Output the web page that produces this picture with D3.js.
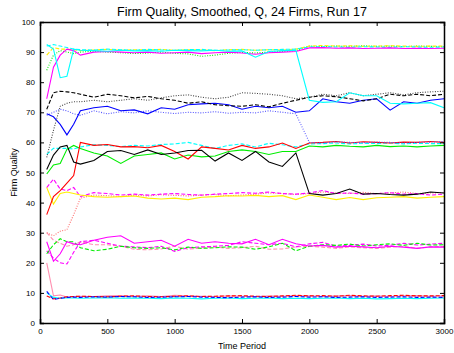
<!DOCTYPE html>
<html><head><meta charset="utf-8">
<script src="https://cdn.jsdelivr.net/npm/d3@7"></script>
<style>body{margin:0;background:#fff;}svg{display:block;font-family:"Liberation Sans",Arial,sans-serif;}</style>
</head><body><svg id="c" width="454" height="353"></svg>
<script>
const times = [50,100,150,200,250,300,400,500,600,700,800,900,1000,1100,1200,1300,1400,1500,1600,1700,1800,1900,2000,2100,2200,2300,2400,2500,2600,2700,2800,2900,3000];
const xTicks = [0,500,1000,1500,2000,2500,3000];
const yTicks = [0,10,20,30,40,50,60,70,80,90,100];
const title = "Firm Quality, Smoothed, Q, 24 Firms, Run 17";
const xLabel = "Time Period";
const yLabel = "Firm Quality";

const magentaHi = [74.5,85,89,91,90.5,89,90,90.2,90,89.8,90,89.6,89.8,90,89.5,89.8,90,89.7,89.3,89.8,90,90.2,91.4,91.5,91.3,91.4,91.2,91.3,91.4,91.2,91.3,91.2,91.3];
const cyanHi = [92.5,91,81.5,82,91,90.6,90.5,90.3,90.6,90.4,90.5,90.3,90.6,90.5,90.4,90.6,90.3,90.4,88.3,90.2,90.5,90.6,74,73.3,73.5,76.5,75.5,75.5,73,72.8,73,73.2,71.5];
const yellowHi = [89,91.5,91,91,90.8,90.5,90.7,90.9,90.6,90.8,90.7,90.9,90.6,90.8,90.7,90.5,90.8,90.9,90.6,90.8,90.7,91,92,92.2,92,92.1,91.9,92,92.1,92,91.9,92,92];
const greenHi = [84,89,90.5,90,89.5,90,90.3,90,89.8,89.5,89.7,90,89.6,89.4,88.6,89,89.6,89.9,89.7,90,90.2,90.5,92,91.8,92,91.9,92.1,91.9,92,91.8,92,91.9,91.8];
const cyanHi2 = [92,92.5,92,91.5,91,90.8,90.7,91,90.8,90.6,90.9,90.7,90.6,90.8,90.9,90.6,90.7,90.8,90.6,90.8,90.9,91,91.7,91.8,91.7,91.6,91.8,91.7,91.6,91.8,91.7,91.6,91.7];
const blackDash = [71,76.5,77,76.8,76.5,76,75,76,75.5,74.8,75.3,74.5,74,73,73.5,72.5,72.2,72,72.5,71.8,73,74,75,75.5,75.2,74.5,73.8,74.5,76,75.5,76,75.5,76];
const blackDot = [55,64,72,73,73.5,73.5,74,73.5,74,74.5,74,74.8,75.5,75.8,75,74.5,75,76.5,76.3,76,75.5,74.5,75,76,75.5,76.5,75.5,76,76.5,75.8,76.5,76.8,77];
const blueSolid = [69.5,68.5,66,62.5,66,70.5,71.5,72,70.5,70.8,69.5,71.5,71,72.5,72.8,73,72.5,71,72,71.5,72,70,70.5,74.5,73.5,73,74,74.5,70.7,73.5,73,74,74.5];
const blueDot = [69,70,71,70.5,69.5,69,70.5,69.5,70.2,69.8,70.5,70,69.6,70,69.8,70.2,69.7,70,69.8,70.5,70,69.5,60,59.8,60.2,60,59.9,60.1,60,59.8,60,60.1,60.3];
const blackSolid = [51,55.8,58.5,59,53.5,52.8,54,57,57.3,56,57.5,56,56.5,57.3,57.4,53.8,56.5,54,57,53.5,52,56.5,43,42.5,43,44.5,42.8,43,42.7,42.5,42.8,43.5,43.2];
const redSolid = [36,42,44,46.5,49,60,59,59.3,58.5,58.6,58.2,59,57,54.5,58.5,58,57.5,59,58,58.5,59.8,58,59.8,60,60.3,59.8,60.2,60,59.8,60.1,60,60.3,60];
const greenSolid = [49.5,52.5,53,57.7,59,58,56.5,55.5,53,55.5,56,56.5,54.5,55.8,55.2,55.5,57,57.5,57,56,57,57,58.8,58.5,59,58.7,58.5,59,58.6,58.8,58.5,58.8,59];
const cyanDash = [56,58,58,58,57.8,58.5,59.2,59,58.6,59,58.8,59.3,59.5,60,59,58,59,59.5,58.5,59.7,59.2,58.5,59.5,59.6,59.8,59.5,59.7,59.6,59.8,59.5,59.7,59.6,59.6];
const yellowSolid = [45,39.5,43,43.5,43,42.5,42,41.8,42,42.2,41.5,41.2,41.5,41,41.8,42,42.3,42.2,42.4,42,42.3,41,42.5,41.8,41,41.7,41,41.6,41.8,42,41.5,41.8,42];
const magentaDashMid = [45,47.8,44.5,44,45,42,43.3,43,42.5,42.8,42.5,42.8,43,42.7,42.5,42.8,43,43.3,43.1,43.5,43,42.8,43.2,44,43,43.2,42.8,43,43.3,42.8,43,42.5,42.8];
const redDot = [30,29,30.5,31,36,41.5,42.5,42.3,42,42.5,42.2,42.6,42.4,42.2,42.5,42.7,42.3,42.5,42.8,43.2,43,42.7,43,43.5,43.2,43,43.4,43,43.2,43.5,43,43.2,43.3];
const magentaLow = [27,20.5,23,27,26.3,26,27.5,28.5,29,26.5,27,27.5,25.5,27.8,26.5,27,26.5,26.3,27.8,26,27.8,26.3,25.6,25.8,25.2,25.5,25.3,25,25.5,25.2,24.8,25.3,25.2];
const greenDash = [23,26,28,27,27,25,24,24.5,25.5,25,24.8,25,24.3,25.2,24.8,25,25.3,25.2,24.5,25.3,26.5,24,25.5,26,25.8,26.2,25.6,26,26.3,25.8,26.5,25.9,26];
const magentaDashLow = [24,21.5,20,19.6,23.5,27,27.5,26.5,25.5,25.3,25,25.5,23.8,25,25.3,25.5,25.8,27,26.5,26,26.5,25.3,26.3,26.8,25.5,25.8,26.2,25.6,25.8,26.5,25.9,26.2,26.5];
const pinkDash = [30,27.5,26.5,25.5,26,27,26,26,25.5,24.5,24.3,24.6,25.5,24.5,25,25.2,24.8,25,25.5,24.5,24.6,25.3,25.5,25.2,24.8,25.3,25,24.8,25.2,25.5,24.8,25.3,25.4];
const pinkSolid = [20,9,9.3,8.6,8.8,8.9,8.8,9,9.1,8.9,9,8.8,9.2,9,8.9,8.8,9,8.9,8.7,9,8.9,9.1,9,8.8,9,9.1,8.9,9,8.8,9,9.1,8.9,9];
const blueDash = [10.5,7.8,8.2,8.5,8.6,8.5,8.7,8.6,8.8,8.7,8.5,8.6,8.7,8.8,8.6,8.5,8.4,8.6,8.7,8.5,8.6,8.8,8.6,8.7,8.5,8.6,8.7,8.5,8.6,8.7,8.5,8.6,8.5];
const redDash = [9,8,8.3,8.7,8.8,8.9,8.8,8.7,8.9,9,8.8,8.7,8.9,9,8.8,8.9,9,9.1,8.9,8.8,9,9.2,9,9.1,8.9,9.2,9,8.9,9.1,9.2,9,9,9.1];
const cyanLow = [10,8.5,8.2,8.4,8.3,8.2,8.3,8.4,8.2,8.3,8.2,8.1,8.3,8.2,8,8.2,8.3,8.1,8.2,8.3,8.1,8.2,8.1,8.2,8.3,8.1,8.2,8,8.1,8.2,8.1,8.2,8.3];

const series = [
  {v: pinkDash, c:"#ff8fb0", d:"4,2"},
  {v: magentaDashLow, c:"#ff00ff", d:"4,2"},
  {v: greenDash, c:"#00ee00", d:"4,2"},
  {v: magentaLow, c:"#ff00ff", d:null},
  {v: redDot, c:"#ff6a6a", d:"1,1.5"},
  {v: magentaDashMid, c:"#ff00ff", d:"4,2"},
  {v: yellowSolid, c:"#ffee00", d:null},
  {v: cyanDash, c:"#00ffff", d:"4,2"},
  {v: greenSolid, c:"#00ee00", d:null},
  {v: redSolid, c:"#ff0000", d:null},
  {v: blackSolid, c:"#000000", d:null},
  {v: blueDot, c:"#5555ff", d:"1,1.5"},
  {v: blueSolid, c:"#0000ff", d:null},
  {v: blackDot, c:"#444444", d:"1,1.5"},
  {v: blackDash, c:"#000000", d:"4,2"},
  {v: greenHi, c:"#00ee00", d:"1,1.5"},
  {v: yellowHi, c:"#ffee00", d:"4,2"},
  {v: cyanHi2, c:"#00ffff", d:"4,2"},
  {v: magentaHi, c:"#ff00ff", d:null},
  {v: cyanHi, c:"#00ffff", d:null},
  {v: pinkSolid, c:"#ff8fb0", d:null},
  {v: cyanLow, c:"#00ffff", d:null},
  {v: redDash, c:"#ff0000", d:"4,2"},
  {v: blueDash, c:"#0000ff", d:"4,2"}
];

const svg = d3.select("#c");
const m = {l:40, r:10, t:22, b:30};
const W = 454, H = 353;
const x = d3.scaleLinear().domain([0,3000]).range([m.l, W-m.r]);
const y = d3.scaleLinear().domain([0,100]).range([H-m.b, m.t]);

const line = d3.line().x((d,i)=>x(times[i])).y(d=>y(d));
const g = svg.append("g");
series.forEach(s=>{
  g.append("path").attr("d", line(s.v)).attr("fill","none")
   .attr("stroke", s.c).attr("stroke-width",1.1)
   .attr("stroke-dasharray", s.d);
});

// axes with inward ticks on all sides
const fs = "8px";
const ax = svg.append("g").attr("transform",`translate(0,${H-m.b})`)
  .call(d3.axisBottom(x).tickValues(xTicks).tickSize(-4).tickPadding(5).tickFormat(d3.format("d")));
const ay = svg.append("g").attr("transform",`translate(${m.l},0)`)
  .call(d3.axisLeft(y).tickValues(yTicks).tickSize(-4).tickPadding(5).tickFormat(d3.format("d")));
const at = svg.append("g").attr("transform",`translate(0,${m.t})`)
  .call(d3.axisTop(x).tickValues(xTicks).tickSize(-4).tickFormat(""));
const ar = svg.append("g").attr("transform",`translate(${W-m.r},0)`)
  .call(d3.axisRight(y).tickValues(yTicks).tickSize(-4).tickFormat(""));
[ax,ay,at,ar].forEach(a=>{
  a.selectAll("text").attr("font-size",fs).attr("fill","#000").attr("font-family","Liberation Sans, Arial, sans-serif");
  a.select(".domain").attr("stroke","#000").attr("stroke-width",1.5);
  a.selectAll(".tick line").attr("stroke","#000");
});

svg.append("text").attr("x", (m.l+W-m.r)/2).attr("y", 16).attr("text-anchor","middle")
  .attr("font-size","12.5px").text(title);
svg.append("text").attr("x", (m.l+W-m.r)/2).attr("y", 349).attr("text-anchor","middle")
  .attr("font-size","9px").text(xLabel);
svg.append("text").attr("transform",`translate(17,${(m.t+H-m.b)/2}) rotate(-90)`).attr("text-anchor","middle")
  .attr("font-size","9px").text(yLabel);
</script></body></html>
